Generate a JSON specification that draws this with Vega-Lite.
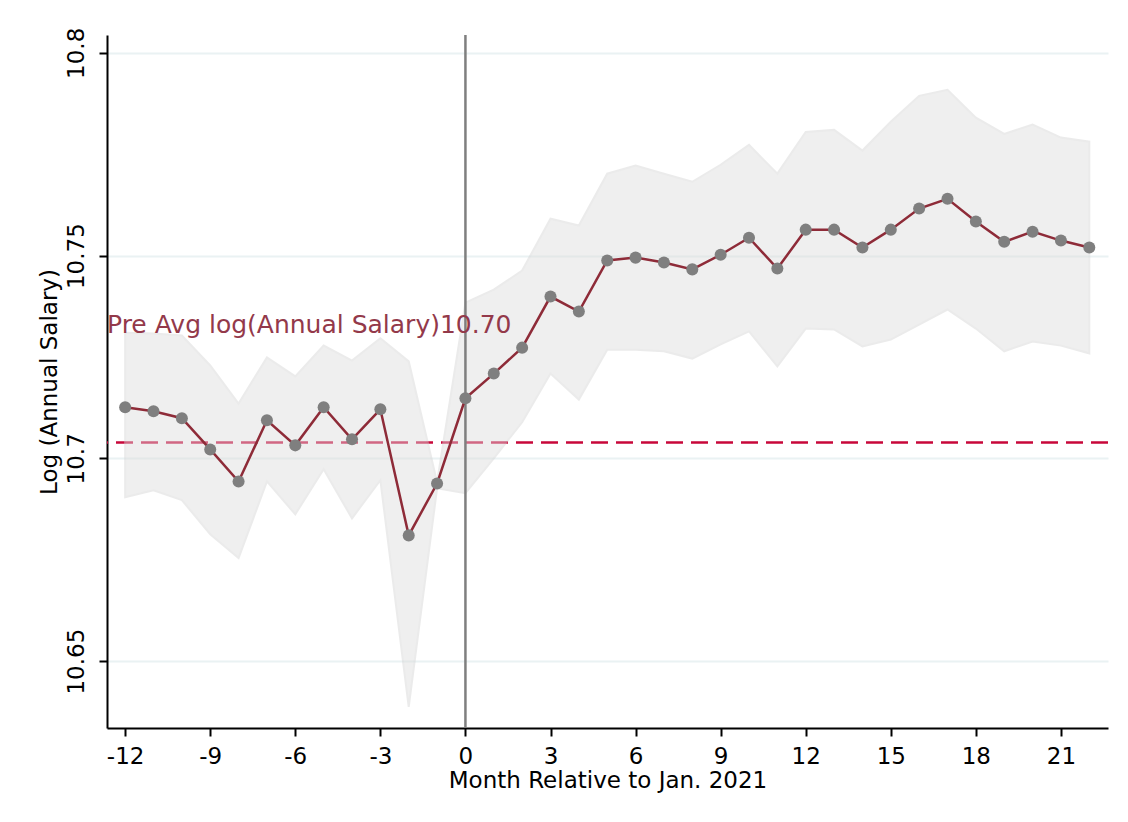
{
  "$schema": "https://vega.github.io/schema/vega-lite/v6.json",
  "width": 1001,
  "height": 693,
  "autosize": "none",
  "padding": {"left": 107, "top": 35, "right": 20, "bottom": 94},
  "background": "white",
  "config": {
    "font": "DejaVu Sans",
    "view": {"stroke": null},
    "axis": {
      "domainColor": "black",
      "domainWidth": 2,
      "tickColor": "black",
      "tickWidth": 2,
      "tickSize": 8,
      "labelColor": "black",
      "titleColor": "black",
      "labelFont": "DejaVu Sans",
      "titleFont": "DejaVu Sans",
      "labelFontSize": 23,
      "titleFontSize": 23,
      "titleFontWeight": "normal",
      "gridColor": "#eaf2f3",
      "gridWidth": 2
    }
  },
  "datasets": {
    "est": [
      {"m": -12, "est": 10.7126, "lo": 10.6904, "hi": 10.7310},
      {"m": -11, "est": 10.7116, "lo": 10.6921, "hi": 10.7308},
      {"m": -10, "est": 10.7099, "lo": 10.6897, "hi": 10.7303},
      {"m": -9, "est": 10.7022, "lo": 10.6813, "hi": 10.7229},
      {"m": -8, "est": 10.6943, "lo": 10.6754, "hi": 10.7135},
      {"m": -7, "est": 10.7094, "lo": 10.6943, "hi": 10.7249},
      {"m": -6, "est": 10.7032, "lo": 10.6862, "hi": 10.7202},
      {"m": -5, "est": 10.7126, "lo": 10.6973, "hi": 10.7278},
      {"m": -4, "est": 10.7047, "lo": 10.6852, "hi": 10.7241},
      {"m": -3, "est": 10.7121, "lo": 10.6946, "hi": 10.7296},
      {"m": -2, "est": 10.6810, "lo": 10.6387, "hi": 10.7239},
      {"m": -1, "est": 10.6938, "lo": 10.6926, "hi": 10.6941},
      {"m": 0, "est": 10.7148, "lo": 10.6914, "hi": 10.7384},
      {"m": 1, "est": 10.7209, "lo": 10.7000, "hi": 10.7416},
      {"m": 2, "est": 10.7273, "lo": 10.7089, "hi": 10.7463},
      {"m": 3, "est": 10.7399, "lo": 10.7209, "hi": 10.7591},
      {"m": 4, "est": 10.7362, "lo": 10.7145, "hi": 10.7574},
      {"m": 5, "est": 10.7488, "lo": 10.7268, "hi": 10.7702},
      {"m": 6, "est": 10.7495, "lo": 10.7268, "hi": 10.7722},
      {"m": 7, "est": 10.7483, "lo": 10.7264, "hi": 10.7702},
      {"m": 8, "est": 10.7466, "lo": 10.7246, "hi": 10.7682},
      {"m": 9, "est": 10.7502, "lo": 10.7281, "hi": 10.7724},
      {"m": 10, "est": 10.7544, "lo": 10.7313, "hi": 10.7773},
      {"m": 11, "est": 10.7468, "lo": 10.7227, "hi": 10.7702},
      {"m": 12, "est": 10.7564, "lo": 10.7320, "hi": 10.7805},
      {"m": 13, "est": 10.7564, "lo": 10.7318, "hi": 10.7810},
      {"m": 14, "est": 10.7520, "lo": 10.7276, "hi": 10.7759},
      {"m": 15, "est": 10.7564, "lo": 10.7293, "hi": 10.7830},
      {"m": 16, "est": 10.7616, "lo": 10.7330, "hi": 10.7894},
      {"m": 17, "est": 10.7640, "lo": 10.7367, "hi": 10.7909},
      {"m": 18, "est": 10.7584, "lo": 10.7320, "hi": 10.7840},
      {"m": 19, "est": 10.7534, "lo": 10.7264, "hi": 10.7800},
      {"m": 20, "est": 10.7559, "lo": 10.7288, "hi": 10.7823},
      {"m": 21, "est": 10.7537, "lo": 10.7278, "hi": 10.7791},
      {"m": 22, "est": 10.7520, "lo": 10.7259, "hi": 10.7781}
    ],
    "refs": [
      {"pre_avg": 10.7039, "event": 0, "label": "Pre Avg log(Annual Salary)10.70", "label_x": -12.64, "label_y": 10.7328}
    ]
  },
  "layer": [
    {
      "data": {"name": "refs"},
      "mark": {"type": "rule", "color": "#c8073a", "strokeWidth": 2.5, "strokeDash": [17, 8]},
      "encoding": {
        "y": {
          "field": "pre_avg",
          "type": "quantitative",
          "scale": {"domain": [10.6335, 10.8044], "nice": false, "zero": false},
          "axis": {
            "values": [10.65, 10.7, 10.75, 10.8],
            "format": ".2~f",
            "title": "Log (Annual Salary)",
            "labelAngle": -90,
            "labelAlign": "center",
            "labelBaseline": "bottom",
            "labelPadding": 11,
            "titlePadding": 4,
            "grid": true,
            "labelFlush": false
          }
        }
      }
    },
    {
      "data": {"name": "est"},
      "mark": {"type": "area", "color": "#dcdcdc", "opacity": 0.45, "stroke": "#d4d4d4", "strokeWidth": 2},
      "encoding": {
        "x": {
          "field": "m",
          "type": "quantitative",
          "scale": {"domain": [-12.64, 22.66], "nice": false, "zero": false},
          "axis": {
            "values": [-12, -9, -6, -3, 0, 3, 6, 9, 12, 15, 18, 21],
            "labelExpr": "replace(datum.label, '\u2212', '-')",
            "title": "Month Relative to Jan. 2021",
            "grid": false,
            "labelPadding": 9,
            "titlePadding": 1,
            "labelFlush": false
          }
        },
        "y": {"field": "hi", "type": "quantitative"},
        "y2": {"field": "lo"}
      }
    },
    {
      "data": {"name": "refs"},
      "mark": {"type": "rule", "color": "#7f7f7f", "strokeWidth": 2.5},
      "encoding": {"x": {"field": "event", "type": "quantitative"}}
    },
    {
      "data": {"name": "est"},
      "mark": {"type": "line", "color": "#8e2b38", "strokeWidth": 2.5},
      "encoding": {"x": {"field": "m", "type": "quantitative"}, "y": {"field": "est", "type": "quantitative"}}
    },
    {
      "data": {"name": "est"},
      "mark": {"type": "circle", "color": "#7f7f7f", "opacity": 1, "size": 145},
      "encoding": {"x": {"field": "m", "type": "quantitative"}, "y": {"field": "est", "type": "quantitative"}}
    },
    {
      "data": {"name": "refs"},
      "mark": {"type": "text", "color": "#93394a", "fontSize": 25, "align": "left", "baseline": "middle", "font": "DejaVu Sans"},
      "encoding": {
        "x": {"field": "label_x", "type": "quantitative"},
        "y": {"field": "label_y", "type": "quantitative"},
        "text": {"field": "label"}
      }
    }
  ]
}
